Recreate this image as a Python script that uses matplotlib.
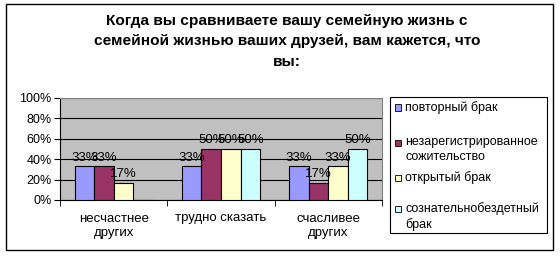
import matplotlib.pyplot as plt
import numpy as np
from matplotlib.patches import Rectangle

plt.rcParams['font.family'] = ['Liberation Sans', 'DejaVu Sans']

# данные
categories = ["несчастнее\nдругих", "трудно сказать", "счасливее\nдругих"]
series_names = ["повторный брак", "незарегистрированное\nсожительство",
                "открытый брак", "сознательнобездетный\nбрак"]
povtorny = [33, 33, 33]
nezareg = [33, 50, 17]
otkryty = [17, 50, 33]
bezdetny = [0, 50, 50]
colors = ["#9999FF", "#993366", "#FFFFCC", "#CCFFFF"]
title = "Когда вы сравниваете вашу семейную жизнь с\nсемейной жизнью ваших друзей, вам кажется, что\nвы:"

W, H = 560, 258
fig = plt.figure(figsize=(W / 100, H / 100), dpi=100)
ax = fig.add_axes([60 / W, 1 - 200 / H, 322 / W, 102 / H])
ax.set_facecolor("#C0C0C0")

x = np.arange(len(categories))
bw = 0.182
allvals = [povtorny, nezareg, otkryty, bezdetny]
for i, vals in enumerate(allvals):
    pos = x + (i - 1.5) * bw
    bars = ax.bar(pos, vals, bw, color=colors[i], edgecolor="black", linewidth=0.8, zorder=3)
    for b, v in zip(bars, vals):
        if v > 0:
            ax.annotate("%d%%" % v, (b.get_x() + b.get_width() / 2, v),
                        xytext=(0, 2), textcoords="offset points",
                        ha="center", va="bottom", fontsize=9.5, zorder=4)

ax.set_xlim(-0.5, 2.5)
ax.set_ylim(0, 100)
ax.set_yticks(range(0, 101, 20))
ax.set_yticklabels(["%d%%" % t for t in range(0, 101, 20)], fontsize=9)
ax.yaxis.grid(True, color="black", linewidth=0.8, zorder=1)
ax.set_xticks(x)
ax.set_xticklabels(categories, fontsize=9.5, linespacing=1.3)
ax.set_xticks([-0.5, 0.5, 1.5, 2.5], minor=True)
ax.tick_params(axis="x", which="major", length=0, pad=9)
ax.tick_params(axis="x", which="minor", length=4, direction="out")
ax.tick_params(axis="y", length=4, direction="out", pad=2)
for s in ["left", "bottom"]:
    ax.spines[s].set_color("black")
for s in ["top", "right"]:
    ax.spines[s].set_color("#808080")

fig.text(287 / W, 1 - 14 / H, title, ha="center", va="top", fontsize=11.1,
         fontweight="bold", linespacing=1.58)

# легенда
fig.patches.append(Rectangle((390 / W, 1 - 233 / H), 157 / W, 136 / H,
                             transform=fig.transFigure, fill=False,
                             edgecolor="black", linewidth=0.8))
ly = [107, 142, 177, 208]
for name, c, y in zip(series_names, colors, ly):
    fig.patches.append(Rectangle((395 / W, 1 - (y + 3.5) / H), 6 / W, 6 / H,
                                 transform=fig.transFigure, facecolor=c,
                                 edgecolor="black", linewidth=0.6))
    fig.text(405 / W, 1 - (y - 6) / H, name, ha="left", va="top", fontsize=9,
             linespacing=1.35)

fig.patches.append(Rectangle((6 / W, 1 - 250 / H), 547 / W, 246 / H,
                             transform=fig.transFigure, fill=False,
                             edgecolor="black", linewidth=1))

fig.savefig("out.png", dpi=100)
